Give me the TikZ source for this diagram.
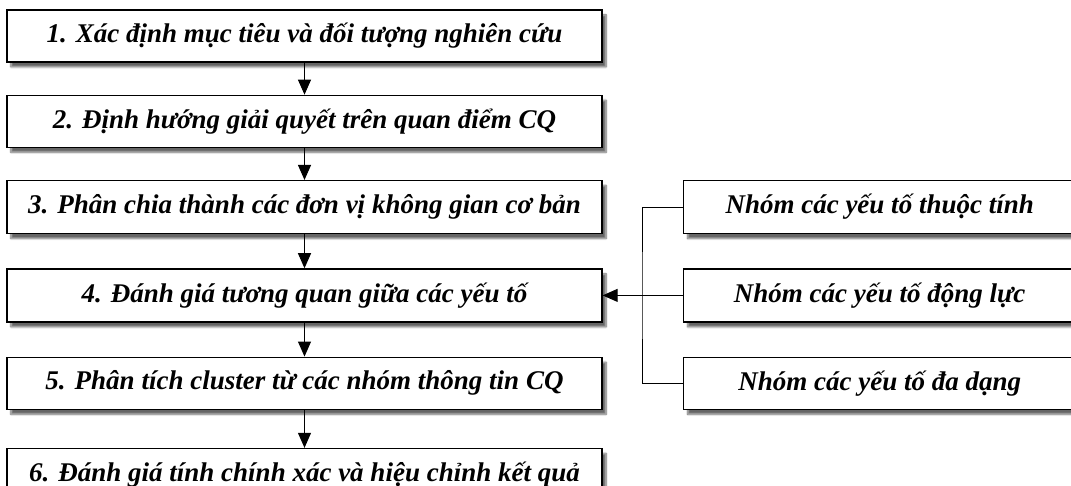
\documentclass[tikz,border=0pt]{standalone}
\usepackage{fontspec}
\setmainfont{Liberation Serif}
\usepackage{tikz}
\usetikzlibrary{arrows.meta,positioning,shadows.blur}

\begin{document}
\begin{tikzpicture}[
  x=1pt, y=-1pt,
  stepbox/.style={draw, line width=1.3pt, fill=white,
                  minimum height=52pt, minimum width=595pt, inner sep=0pt,
                  blur shadow={shadow xshift=4pt, shadow yshift=-5pt,
                               shadow opacity=60, shadow blur steps=8},
                  font=\fontsize{27}{30}\selectfont\bfseries\itshape},
  groupbox/.style={stepbox, minimum width=392pt},
  flow/.style={-{Triangle[length=15pt, width=13pt]}, line width=1pt},
  link/.style={line width=1pt}
]
  \useasboundingbox (0,0) rectangle (1071,486);

  \node[stepbox] (s1) at (304.5,36) {1. Xác định mục tiêu và đối tượng nghiên cứu};
  \node[stepbox] (s2) [below=32pt of s1] {2. Định hướng giải quyết trên quan điểm CQ};
  \node[stepbox, minimum height=53pt] (s3) [below=32pt of s2] {3. Phân chia thành các đơn vị không gian cơ bản};
  \node[stepbox, minimum height=53pt] (s4) [below=34pt of s3] {4. Đánh giá tương quan giữa các yếu tố};
  \node[stepbox] (s5) [below=34pt of s4] {5. Phân tích cluster từ các nhóm thông tin CQ};
  \node[stepbox] (s6) [below=38pt of s5] {6. Đánh giá tính chính xác và hiệu chỉnh kết quả};

  \node[groupbox, minimum height=53pt, anchor=west] (g1) at (s3.center -| 683,0) {Nhóm các yếu tố thuộc tính};
  \node[groupbox, minimum height=53pt, anchor=west] (g2) at (s4.center -| 683,0) {Nhóm các yếu tố động lực};
  \node[groupbox, anchor=west] (g3) at (s5.center -| 683,0) {Nhóm các yếu tố đa dạng};

  \draw[flow] (s1) -- (s2);
  \draw[flow] (s2) -- (s3);
  \draw[flow] (s3) -- (s4);
  \draw[flow] (s4) -- (s5);
  \draw[flow] (s5) -- (s6);

  % gom ba nhom vao buoc 4
  \coordinate (jn) at (s4.center -| 642,0);
  \draw[link] (g1.west) -| (jn) |- (g3.west);
  \draw[flow] (g2.west) -- (s4.east);
\end{tikzpicture}
\end{document}
